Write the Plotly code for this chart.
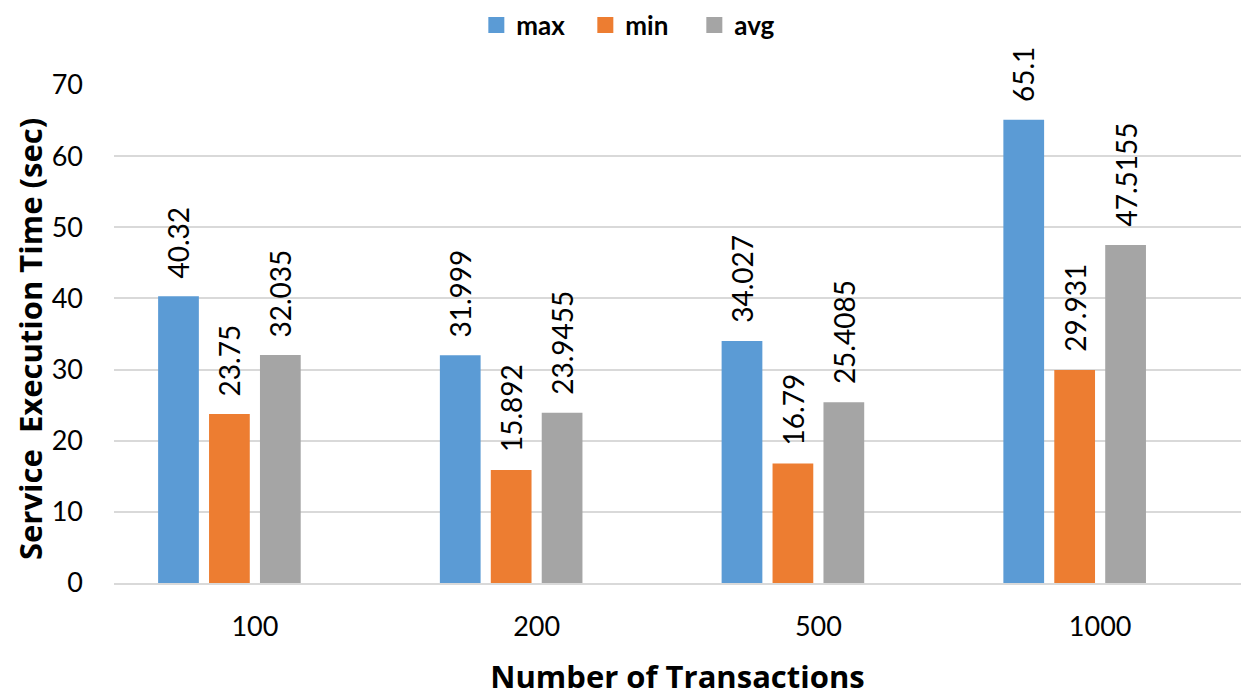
import plotly.graph_objects as go

categories = ["100", "200", "500", "1000"]
series_names = ["max", "min", "avg"]
max_vals = [40.32, 31.999, 34.027, 65.1]
min_vals = [23.75, 15.892, 16.79, 29.931]
avg_vals = [32.035, 23.9455, 25.4085, 47.5155]
max_labels = ["40.32", "31.999", "34.027", "65.1"]
min_labels = ["23.75", "15.892", "16.79", "29.931"]
avg_labels = ["32.035", "23.9455", "25.4085", "47.5155"]
y_ticks = [0, 10, 20, 30, 40, 50, 60, 70]
x_title = "Number of Transactions"
y_title = "Service  Execution Time (sec)"

colors = ["#5B9BD5", "#ED7D31", "#A5A5A5"]
font_family = "Lato, Open Sans, sans-serif"
title_family = "Open Sans, Lato, sans-serif"

# pixel geometry for the group slots (4 slots, last one empty as in the source chart)
slot_px = 51
slot_shift = [-1.5, -0.5, 0.5]

fig = go.Figure()
all_vals = [max_vals, min_vals, avg_vals]
all_labels = [max_labels, min_labels, avg_labels]
for i, name in enumerate(series_names):
    fig.add_trace(go.Bar(
        name=name, x=categories, y=all_vals[i],
        marker=dict(color=colors[i], line=dict(width=0)),
        showlegend=False,
    ))
# empty fourth series slot
fig.add_trace(go.Bar(name="", x=categories, y=[None] * len(categories),
                     showlegend=False, hoverinfo="skip"))
# legend entries with square swatches
for i, name in enumerate(series_names):
    fig.add_trace(go.Scatter(
        name=name, x=[None], y=[None], mode="markers",
        marker=dict(symbol="square", size=17, color=colors[i]),
        showlegend=True,
    ))

for i in range(len(series_names)):
    for j, (v, lab) in enumerate(zip(all_vals[i], all_labels[i])):
        fig.add_annotation(
            x=j, y=v, xref="x", yref="y", text=lab, textangle=-90,
            showarrow=False, xanchor="center", yanchor="bottom",
            xshift=slot_shift[i] * slot_px, yshift=16,
            font=dict(size=28, color="#000000", family=font_family),
        )

# y-axis title placed as a rotated annotation so it can sit close to the edge
fig.add_annotation(
    x=-0.0745, y=0.49, xref="paper", yref="paper", text="<b>" + y_title + "</b>",
    textangle=-90, showarrow=False, xanchor="center", yanchor="middle", borderpad=0,
    font=dict(size=31, family=title_family, color="#000000"),
)

fig.update_layout(
    width=1250, height=696,
    margin=dict(l=106, r=17, t=77, b=121, autoexpand=False),
    paper_bgcolor="white", plot_bgcolor="white",
    barmode="group", bargap=0.277, bargroupgap=0.2,
    font=dict(family=font_family, size=27, color="#000000"),
    legend=dict(orientation="h", x=0.3215, xanchor="left", y=1.1205, yanchor="middle",
                font=dict(size=26, family=font_family, weight="bold"),
                traceorder="normal", itemwidth=30, entrywidth=64, entrywidthmode="pixels"),
    showlegend=True,
)
fig.update_xaxes(
    type="category", range=[-0.5, len(categories) - 0.5],
    showline=True, linecolor="#D9D9D9", linewidth=2,
    tickfont=dict(size=27), ticks="", ticklabelstandoff=19,
    title=dict(text="<b>" + x_title + "</b>",
               font=dict(size=31, family=title_family), standoff=25),
)
fig.update_yaxes(
    range=[0, 70], tickvals=y_ticks, showgrid=True, gridcolor="#D9D9D9", gridwidth=2,
    zeroline=False, tickfont=dict(size=27), ticks="", ticklabelstandoff=30,
)

fig.write_html("out.html")
